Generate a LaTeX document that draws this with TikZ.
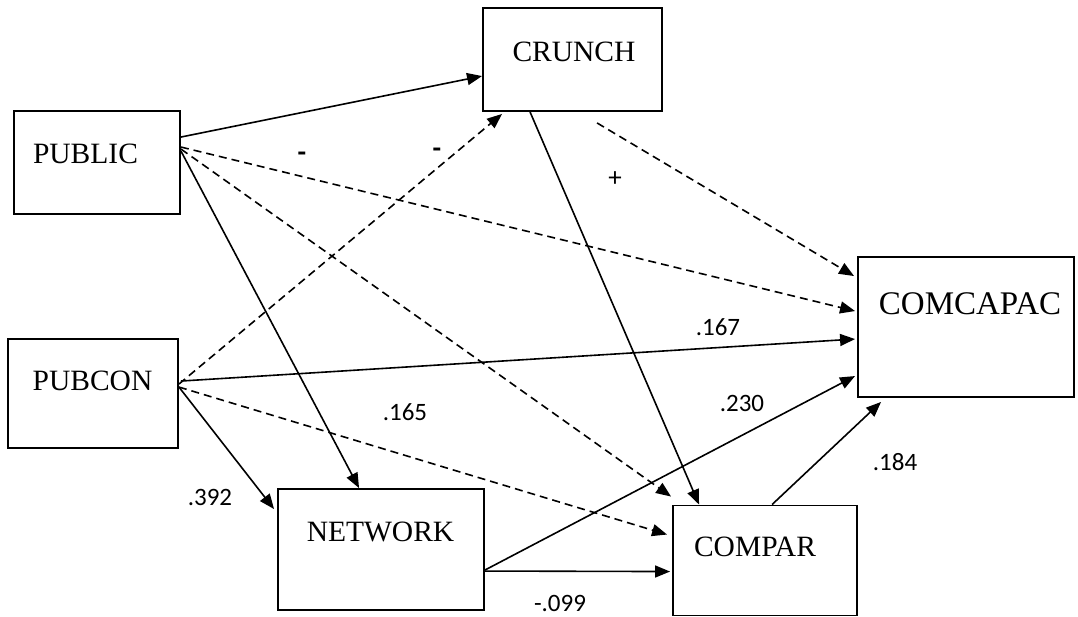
\documentclass[tikz,border=0pt]{standalone}
\usepackage{fontspec}
\setmainfont{Liberation Serif}
\newfontfamily\numfont{Carlito}
\usetikzlibrary{arrows.meta}
\begin{document}
\begin{tikzpicture}[x=1pt,y=-1pt,
  box/.style={draw, line width=1.9pt, inner sep=0pt},
  vname/.style={font=\fontsize{29.5}{30}\selectfont, inner sep=0pt},
  coef/.style={font=\numfont\fontsize{25}{27}\selectfont, inner sep=0pt},
  sign/.style={font=\numfont\bfseries\fontsize{28}{30}\selectfont, inner sep=0pt},
  conn/.style={line width=1.6pt, -{Triangle[length=15pt,width=12pt]}},
  dconn/.style={conn, dash pattern=on 8pt off 5pt}
]
\useasboundingbox (0,0) rectangle (1078,617);
% boxes
\node[box, minimum width=166pt, minimum height=103pt] (pub) at (97,162.5) {};
\node[box, minimum width=170pt, minimum height=109pt] (pbc) at (93,393.5) {};
\node[box, minimum width=179pt, minimum height=103pt] (crn) at (572.5,59.5) {};
\node[box, minimum width=216pt, minimum height=140pt] (cmc) at (966,327) {};
\node[box, minimum width=206pt, minimum height=121pt] (net) at (381,549.5) {};
\node[box, minimum width=184pt, minimum height=110pt] (cmp) at (765,560.5) {};
% box texts
\node[vname] (pubT) at (85.5,154) {PUBLIC};
\node[vname] (pbcT) at (92.5,381) {PUBCON};
\node[vname] (crnT) at (574,52) {CRUNCH};
\node[vname, font=\fontsize{33}{34}\selectfont] (cmcT) at (970,303.5) {COMCAPAC};
\node[vname] (netT) at (380.5,532) {NETWORK};
\node[vname] (cmpT) at (755,546.5) {COMPAR};
% connectors
\draw[conn] ([yshift=-27pt]pub.north east) -- ([yshift=-69pt]crn.north west);
\draw[dconn] ([yshift=-37pt]pub.north east) -- ([shift={(-2pt,-55pt)}]cmc.north west);
\draw[dconn] ([yshift=-39pt]pub.north east) -- ([shift={(-1pt,8pt)}]cmp.north west);
\draw[conn] ([yshift=-41pt]pub.north east) -- ([xshift=82pt]net.north west);
\draw[dconn] ([yshift=-46pt]pbc.north east) -- ([shift={(20pt,-2pt)}]crn.south west);
\draw[conn] ([shift={(2pt,-43pt)}]pbc.north east) -- ([shift={(-2pt,-83pt)}]cmc.north west);
\draw[dconn] ([yshift=-49pt]pbc.north east) -- ([shift={(-5pt,-30pt)}]cmp.north west);
\draw[conn] ([yshift=-49pt]pbc.north east) -- ([shift={(-3pt,-21pt)}]net.north west);
\draw[conn] ([xshift=48pt]crn.south west) -- ([xshift=27pt]cmp.north west);
\draw[dconn] ([shift={(115pt,-11pt)}]crn.south west) -- ([shift={(-3pt,-20pt)}]cmc.north west);
\draw[conn] ([yshift=-82pt]net.north east) -- ([shift={(-2pt,-120pt)}]cmc.north west);
\draw[conn] ([yshift=-83pt]net.north east) -- ([shift={(-2pt,-67pt)}]cmp.north west);
\draw[conn] ([xshift=100pt]cmp.north west) -- ([shift={(24pt,-4pt)}]cmc.south west);
% labels
\node[sign] (s1) at (302,157) {-};
\node[sign] (s2) at (437,153) {-};
\node[coef, font=\numfont\fontsize{27}{29}\selectfont] (s3) at (615,179) {+};
\node[coef] (c167) at (718,327) {.167};
\node[coef] (c165) at (405,412) {.165};
\node[coef] (c230) at (742,403) {.230};
\node[coef] (c392) at (210,497) {.392};
\node[coef] (c184) at (895,462) {.184};
\node[coef] (c099) at (560,603) {-.099};
\end{tikzpicture}
\end{document}
